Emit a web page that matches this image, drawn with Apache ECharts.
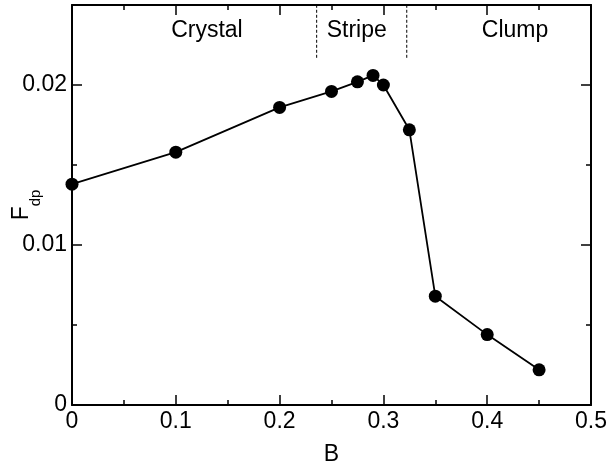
<!DOCTYPE html>
<html>
<head>
<meta charset="utf-8">
<script src="https://cdn.jsdelivr.net/npm/echarts@6/dist/echarts.min.js"></script>
<style>
  html, body { margin: 0; padding: 0; background: #fff; }
  #chart { width: 611px; height: 467px; }
</style>
</head>
<body>
<div id="chart"></div>
<script>
// data
const bValues = [0, 0.1, 0.2, 0.25, 0.275, 0.29, 0.3, 0.325, 0.35, 0.4, 0.45];
const fdpValues = [0.0138, 0.0158, 0.0186, 0.0196, 0.0202, 0.0206, 0.0200, 0.0172, 0.0068, 0.0044, 0.0022];

// phase boundaries (dashed lines) and region names
const boundaryB = [0.2357, 0.3225];
const boundaryFrom = 0.0217;
const regionNames = ['Crystal', 'Stripe', 'Clump'];
const regionB = [0.130, 0.2743, 0.4268];
const regionF = [0.0234, 0.0234, 0.0234];

// tick labels
const xTickLabels = ['0', '0.1', '0.2', '0.3', '0.4', '0.5'];
const yTickLabels = ['0', '0.01', '0.02'];

const font = 'Liberation Sans';
const black = '#000';

const chart = echarts.init(document.getElementById('chart'));

// shared axis pieces
const axisLine = { show: true, onZero: false, lineStyle: { color: black, width: 2 } };
const majorTick = { show: true, inside: true, length: 10, lineStyle: { color: black, width: 1.5 } };
const minorTick = { show: true, inside: true, length: 5, lineStyle: { color: black, width: 1.5 } };

function yLabel(v) {
  const i = Math.round(v / 0.01);
  if (Math.abs(v - i * 0.01) > 1e-9) return '';
  return yTickLabels[i] || '';
}

function xLabel(v) {
  const i = Math.round(v / 0.1);
  if (Math.abs(v - i * 0.1) > 1e-9) return '';
  return xTickLabels[i] || '';
}

const xBase = {
  type: 'value', min: 0, max: 0.5, interval: 0.1,
  axisLine: axisLine, axisTick: majorTick,
  minorTick: Object.assign({ splitNumber: 2 }, minorTick),
  splitLine: { show: false }, minorSplitLine: { show: false }
};

const yMajor = {
  type: 'value', min: 0, max: 0.025, interval: 0.01,
  axisLine: axisLine, axisTick: majorTick,
  splitLine: { show: false }
};
// second copy of the y axis only for the short ticks at every 0.005
const yMinor = {
  type: 'value', min: 0, max: 0.025, interval: 0.005, offset: 0,
  axisLine: { show: false, onZero: false }, axisTick: minorTick,
  axisLabel: { show: false }, splitLine: { show: false }
};

const boundarySeries = boundaryB.map(function (b) {
  return {
    type: 'line',
    xAxisIndex: 0, yAxisIndex: 0,
    data: [[b, boundaryFrom], [b, 0.025]],
    symbol: 'none',
    silent: true,
    lineStyle: { color: black, width: 1, type: [3, 2] }
  };
});

chart.setOption({
  animation: false,
  backgroundColor: '#fff',
  textStyle: { fontFamily: font },
  grid: { left: 72, right: 20, top: 5, bottom: 62, containLabel: false, outerBoundsMode: 'none' },
  xAxis: [
    Object.assign({}, xBase, {
      position: 'bottom',
      name: 'B',
      nameLocation: 'middle',
      nameGap: 38,
      nameMoveOverlap: false,
      nameTextStyle: { fontFamily: font, fontSize: 23, color: black },
      axisLabel: { show: true, margin: 5, fontFamily: font, fontSize: 23, color: black, formatter: xLabel }
    }),
    Object.assign({}, xBase, { position: 'top', axisLabel: { show: false } })
  ],
  yAxis: [
    Object.assign({}, yMajor, {
      position: 'left',
      name: '{f|F}{s|dp}',
      nameLocation: 'middle',
      nameRotate: 90,
      nameGap: 29,
      nameMoveOverlap: false,
      nameTextStyle: {
        color: black,
        rich: {
          f: { fontFamily: font, fontSize: 23, color: black, padding: [0, 0, 10, 0] },
          s: { fontFamily: font, fontSize: 15, color: black, verticalAlign: 'bottom' }
        }
      },
      axisLabel: { show: true, margin: 5, fontFamily: font, fontSize: 23, color: black, formatter: yLabel }
    }),
    Object.assign({}, yMinor, { position: 'left' }),
    Object.assign({}, yMajor, { position: 'right', axisLabel: { show: false } }),
    Object.assign({}, yMinor, { position: 'right' })
  ],
  series: boundarySeries.concat([
    {
      name: 'Fdp',
      type: 'line',
      xAxisIndex: 0, yAxisIndex: 0,
      data: bValues.map(function (b, i) { return [b, fdpValues[i]]; }),
      symbol: 'circle',
      symbolSize: 13,
      itemStyle: { color: black },
      lineStyle: { color: black, width: 1.8 }
    },
    {
      // region names placed in data coordinates
      type: 'scatter',
      xAxisIndex: 0, yAxisIndex: 0,
      data: regionNames.map(function (n, i) { return { name: n, value: [regionB[i], regionF[i]] }; }),
      symbolSize: 1,
      itemStyle: { color: 'transparent', opacity: 1 },
      silent: true,
      label: {
        show: true, position: 'inside', formatter: '{b}',
        fontFamily: font, fontSize: 23, color: black, opacity: 1
      }
    }
  ])
});
</script>
</body>
</html>
